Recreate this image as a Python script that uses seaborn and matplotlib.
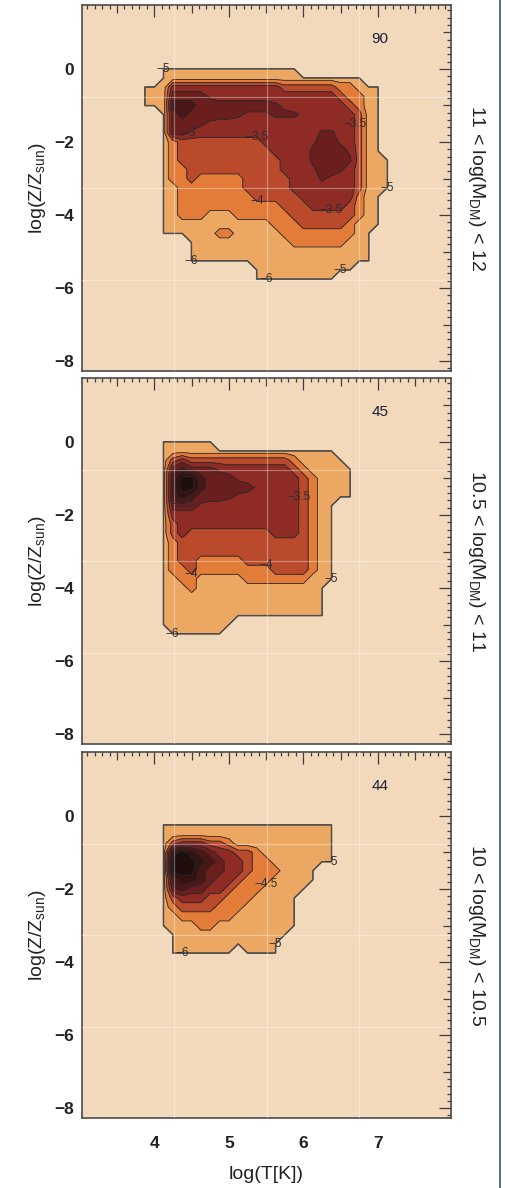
import re
import numpy as np
import matplotlib
matplotlib.use("Agg")
import matplotlib.pyplot as plt
from matplotlib.lines import Line2D
from matplotlib.ticker import FixedLocator, MultipleLocator, FuncFormatter
import seaborn as sns

# ---------------------------------------------------------------------------
# Binned gas-mass distribution in the (log T, log Z) plane, three halo-mass bins
# ---------------------------------------------------------------------------

# bin centres of the tabulation grid
LOG_T_NODES = [3.75, 3.875, 4.0, 4.125, 4.25, 4.375, 4.5, 4.625, 4.75, 4.875,
               5.0, 5.125, 5.25, 5.375, 5.5, 5.625, 5.75, 5.875, 6.0, 6.125,
               6.25, 6.375, 6.5, 6.625, 6.75, 6.875, 7.0, 7.125, 7.25]
LOG_Z_NODES = [0.25, 0.0, -0.25, -0.5, -0.75, -1.0, -1.25, -1.5, -1.75, -2.0,
               -2.25, -2.5, -2.75, -3.0, -3.25, -3.5, -3.75, -4.0, -4.25, -4.5,
               -4.75, -5.0, -5.25, -5.5, -5.75, -6.0]

# log mass fraction carried by each code ('.' marks an empty bin;
# 'D' sits just below -3, 'E' just above it)
BAND_VALUE = {".": -50.0, "a": -4.75, "b": -4.25, "c": -3.75, "d": -3.25,
              "D": -3.1, "E": -2.9, "e": -2.75, "f": -2.25, "g": -1.75,
              "h": -1.25}

HALO_BINS = ["11 < log(M$_{DM}$) < 12",
             "10.5 < log(M$_{DM}$) < 11",
             "10 < log(M$_{DM}$) < 10.5"]
HALO_COUNTS = [90, 45, 44]

# run-length coded rows, one per log Z node (top to bottom)
MAP_HIGH = [
    "29.",
    "3. 15a 11.",
    "3. 22a 4.",
    "1. 3a 12d 6c 2b 3a 2.",
    "1. 3a 4e 1D 13d 1c 2b 2a 2.",
    "1. 3a 3f 8e 1E 1D 6d 1c 1b 2a 2.",
    "3. 1a 1e 1f 5e 1E 3D 3E 1D 5d 1c 2a 2.",
    "3. 1a 3e 1E 1D 15d 1c 2a 2.",
    "3. 1a 2e 1D 13d 2E 2d 1c 2a 2.",
    "3. 1a 1b 9c 5d 1D 2e 1D 1d 1c 2a 2.",
    "3. 1a 1b 10c 4d 1E 3e 1D 1c 2a 2.",
    "3. 1a 1b 11c 3d 1E 3e 1E 1c 3a 1.",
    "3. 1a 2b 10c 3d 1D 2e 1E 1d 1c 3a 1.",
    "3. 1a 2b 1c 5b 5c 3d 1E 1D 2d 1c 3a 1.",
    "3. 2a 7b 5c 7d 1c 3a 1.",
    "3. 2a 8b 5c 6d 1b 2a 2.",
    "3. 2a 11b 3c 4d 1c 1b 2a 2.",
    "3. 2a 3b 3a 6b 7c 1b 2a 2.",
    "3. 12a 3b 5c 1b 3a 2.",
    "3. 6a 2b 5a 8b 2a 3.",
    "6. 11a 6b 3a 3.",
    "6. 20a 3.",
    "6. 20a 3.",
    "13. 11a 5.",
    "13. 9a 7.",
    "29.",
]
MAP_MID = [
    "29.",
    "3. 6a 20.",
    "3. 19a 7.",
    "3. 1a 1c 1d 11c 1b 5a 6.",
    "3. 1a 1e 1f 3e 1D 7d 1c 1b 5a 5.",
    "3. 1a 1f 2h 1f 3e 1D 6d 1c 1b 4a 5.",
    "3. 1a 1f 2h 1f 5e 1D 4d 1c 1b 4a 5.",
    "3. 1a 1f 1g 1f 3e 1E 1D 6d 1c 1b 4a 5.",
    "3. 1a 3e 1D 10d 1c 1b 2a 7.",
    "3. 1a 14d 1c 1b 2a 7.",
    "3. 1a 1c 13d 1c 1b 2a 7.",
    "3. 1a 1c 1d 9c 3d 1c 1b 2a 7.",
    "3. 1a 1b 14c 1b 2a 7.",
    "3. 1a 1b 14c 1b 2a 7.",
    "3. 1a 1b 2c 5b 7c 1b 2a 7.",
    "3. 1a 2b 1c 8b 4c 1b 2a 7.",
    "3. 2a 2b 5a 7b 3a 7.",
    "3. 3a 1b 14a 8.",
    "3. 18a 8.",
    "3. 18a 8.",
    "3. 18a 8.",
    "3. 8a 18.",
    "4. 6a 19.",
    "29.",
    "29.",
    "29.",
]
MAP_LOW = [
    "29.",
    "29.",
    "3. 19a 7.",
    "3. 19a 7.",
    "3. 1a 1c 3d 2c 1b 11a 7.",
    "3. 1a 1g 1h 1g 1f 1e 2d 2c 1b 8a 7.",
    "3. 1a 3h 1g 1f 1e 2d 1c 2b 7a 7.",
    "3. 1a 3h 1f 2e 2d 1c 3b 4a 9.",
    "3. 1a 1f 2g 1f 1e 2d 1c 3b 5a 9.",
    "3. 1a 1e 1f 2e 2d 1c 3b 5a 10.",
    "3. 1a 1c 3d 2c 3b 5a 11.",
    "3. 1a 1b 4c 3b 6a 11.",
    "3. 2a 6b 7a 11.",
    "3. 4a 2b 9a 11.",
    "4. 13a 12.",
    "4. 12a 13.",
    "4. 7a 1. 4a 13.",
    "29.", "29.", "29.", "29.", "29.", "29.", "29.", "29.", "29.",
]

# contour label: (level, near log T, near log Z)
LABELS_HIGH = [(-5, 4.15, 0.08), (-3, 4.44, -1.75), (-3.5, 5.38, -1.97),
               (-3.5, 6.63, -1.56), (-5, 7.2, -3.14), (-4, 5.35, -3.69),
               (-3.5, 6.33, -3.88), (-6, 4.55, -5.19), (-6, 5.45, -5.6),
               (-5, 6.43, -5.6)]
LABELS_MID = [(-2.5, 4.39, -1.66), (-3.5, 5.86, -1.53), (-4, 4.52, -3.57),
              (-4, 5.5, -3.38), (-5, 6.36, -3.9), (-6, 4.28, -5.12)]
LABELS_LOW = [(-5, 6.39, -1.26), (-4.5, 5.49, -1.95), (-6, 4.39, -3.6),
              (-5, 5.66, -3.52)]

FILL_LEVELS = [-6, -5, -4.5, -4, -3.5, -3, -2.5, -2, -1.5, -1]
LINE_LEVELS = [-6, -5, -4.5, -4, -3.5, -3, -2.5, -2, -1.5]
X_TICK_LABELS = [4, 5, 6, 7]
Y_TICK_LABELS = [-8, -6, -4, -2, 0]

# ---------------------------------------------------------------------------
# styling
# ---------------------------------------------------------------------------
sns.set_theme(style="white")
plt.rcParams["font.family"] = ["Liberation Sans", "DejaVu Sans"]
plt.rcParams["mathtext.default"] = "regular"

BAND_COLORS = sns.color_palette(["#eca862", "#eca862", "#e27c38", "#b94a2c",
                                 "#8e2b25", "#6a1f1e", "#4b1716", "#341211",
                                 "#200e0d"])
BG = "#f3d9bc"
TICK_C = "#3c3c3c"
TEXT_C = "#222222"
LINE_COLORS = ["#4d4d4d", "#4d4d4d"] + ["#2a2a2a"] * 7
LINE_WIDTHS = [0.9, 0.9] + [0.6] * 7

W, H = 506, 1188
AX_LEFT, AX_RIGHT = 82, 451
PANEL_TOPS = [5, 378, 752]
PANEL_H = 366


def decode(rows):
    grid = []
    for row in rows:
        vals = []
        for n, ch in re.findall(r"(\d+)([.a-hDE])", row):
            vals.extend([BAND_VALUE[ch]] * int(n))
        grid.append(vals)
    return np.array(grid)


def minus(s):
    return s.replace("-", "\u2212")


def style_axis(ax, show_x):
    ax.set_xlim(3.03, 7.98)
    ax.set_ylim(-8.27, 1.75)
    ax.xaxis.set_major_locator(FixedLocator([3.5, 4, 4.5, 5, 5.5, 6, 6.5, 7, 7.5]))
    ax.xaxis.set_minor_locator(MultipleLocator(0.1))
    ax.yaxis.set_major_locator(FixedLocator([-8, -7, -6, -5, -4, -3, -2, -1, 0, 1]))
    ax.yaxis.set_minor_locator(MultipleLocator(0.2))

    def xfmt(v, p):
        r = int(round(v))
        if show_x and abs(v - r) < 1e-6 and r in X_TICK_LABELS:
            return str(r)
        return ""

    def yfmt(v, p):
        r = int(round(v))
        if abs(v - r) < 1e-6 and r in Y_TICK_LABELS:
            return minus(str(r))
        return ""

    ax.xaxis.set_major_formatter(FuncFormatter(xfmt))
    ax.yaxis.set_major_formatter(FuncFormatter(yfmt))
    ax.tick_params(which="both", direction="in", top=True, right=True,
                   color=TICK_C, width=0.9)
    ax.tick_params(which="major", length=8.5)
    ax.tick_params(which="minor", length=3.0)
    ax.tick_params(axis="x", which="major", pad=13.0, labelsize=12.5, labelcolor=TEXT_C)
    ax.tick_params(axis="y", which="major", pad=5.5, labelsize=12.5, labelcolor=TEXT_C)

    # integer / even steps get long ticks, the half steps a medium one
    for t, loc in zip(ax.xaxis.get_major_ticks(), ax.xaxis.get_majorticklocs()):
        size = 8.5 if abs(loc - round(loc)) < 1e-6 else 5.5
        t.tick1line.set_markersize(size)
        t.tick2line.set_markersize(size)
        t.label1.set_fontweight("bold")
    for t, loc in zip(ax.yaxis.get_major_ticks(), ax.yaxis.get_majorticklocs()):
        size = 8.5 if int(round(loc)) % 2 == 0 else 5.5
        t.tick1line.set_markersize(size)
        t.tick2line.set_markersize(size)
        t.label1.set_fontweight("bold")

    for sp in ax.spines.values():
        sp.set_color("#4a4a4a")
        sp.set_linewidth(1.2)

    # faint quarter guides
    for f in (0.25, 0.5, 0.75):
        ax.add_line(Line2D([f, f], [0, 1], transform=ax.transAxes,
                           color="white", alpha=0.35, lw=0.9, zorder=3))
        ax.add_line(Line2D([0, 1], [f, f], transform=ax.transAxes,
                           color="white", alpha=0.35, lw=0.9, zorder=3))


def label_level(ax, cs, level, near_x, near_y):
    """Write the level value on its own contour, at the point closest to (near_x, near_y)."""
    idx = list(cs.levels).index(level)
    verts = cs.get_paths()[idx].vertices
    if len(verts) == 0:
        return
    disp = ax.transData.transform(verts)
    target = ax.transData.transform((near_x, near_y))
    j = int(np.argmin(((disp - target) ** 2).sum(axis=1)))
    x, y = verts[j]
    ax.text(x, y, minus(f"{level:g}"), ha="center", va="center", fontsize=8.5,
            color="#2e2e2e", zorder=4)


fig = plt.figure(figsize=(W / 100, H / 100), dpi=100)
fig.patch.set_facecolor("white")

maps = [MAP_HIGH, MAP_MID, MAP_LOW]
labels = [LABELS_HIGH, LABELS_MID, LABELS_LOW]
x_nodes = np.array(LOG_T_NODES)
y_nodes = np.array(LOG_Z_NODES)[::-1]

for k in range(3):
    top = PANEL_TOPS[k]
    rect = [AX_LEFT / W, 1 - (top + PANEL_H) / H,
            (AX_RIGHT - AX_LEFT) / W, PANEL_H / H]
    ax = fig.add_axes(rect)
    ax.set_facecolor(BG)
    z = decode(maps[k])[::-1]

    ax.contourf(x_nodes, y_nodes, z, levels=FILL_LEVELS, colors=BAND_COLORS)
    cs = ax.contour(x_nodes, y_nodes, z, levels=LINE_LEVELS,
                    colors=LINE_COLORS, linewidths=LINE_WIDTHS)
    style_axis(ax, show_x=(k == 2))

    for lev, lx, ly in labels[k]:
        label_level(ax, cs, lev, lx, ly)

    ax.text(7.03, 0.83, str(HALO_COUNTS[k]), ha="center", va="center",
            fontsize=11, color="#1d1d38")
    ax.set_ylabel("log(Z/Z$_{sun}$)", fontsize=14, color=TEXT_C, labelpad=5)
    if k == 2:
        ax.set_xlabel("log(T[K])", fontsize=14, color=TEXT_C, labelpad=11)

    fig.text(477 / W, 1 - (top + PANEL_H / 2) / H, HALO_BINS[k],
             rotation=270, ha="center", va="center", fontsize=14, color=TEXT_C)

fig.add_artist(Line2D([500.5 / W, 500.5 / W], [0, 1], transform=fig.transFigure,
                      color="#2f5b8c", lw=1.2))

fig.savefig("out.png", dpi=100)
